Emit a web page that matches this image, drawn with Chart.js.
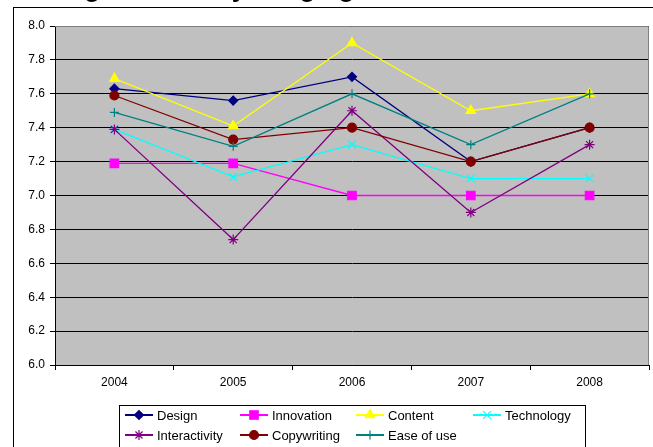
<!doctype html>
<html>

<head>
  <title>Average scores by judging criteria</title>
  <script src="https://cdn.jsdelivr.net/npm/chart.js@4"></script>
  <style>
    body {
      margin: 0;
      background: #fff;
    }
    canvas {
      display: block;
    }
  </style>
</head>

<body>
  <canvas id="myChart" width="653" height="447"></canvas>

  <script>
    var years = ['2004', '2005', '2006', '2007', '2008'];
    var yTicks = [6.0, 8.0, 0.2]; // min, max, step

    var design = [7.63, 7.56, 7.70, 7.20, 7.40];
    var innovation = [7.19, 7.19, 7.00, 7.00, 7.00];
    var content = [7.69, 7.41, 7.90, 7.50, 7.60];
    var technology = [7.39, 7.11, 7.30, 7.10, 7.10];
    var interactivity = [7.39, 6.74, 7.50, 6.90, 7.30];
    var copywriting = [7.59, 7.33, 7.40, 7.20, 7.40];
    var easeOfUse = [7.49, 7.29, 7.60, 7.30, 7.60];

    var FONT = 'Arial, "Liberation Sans", sans-serif';

    function series(label, data, color, style, radius, i) {
      return {
        label: label,
        data: data,
        borderColor: color,
        backgroundColor: color,
        borderWidth: 1.3,
        pointStyle: style,
        pointRadius: radius,
        pointHoverRadius: radius,
        pointBorderWidth: 1.2,
        pointBackgroundColor: color,
        pointBorderColor: color,
        tension: 0,
        order: -i  // later series on top, like the original
      };
    }

    // gray plot area, frame round the whole chart, cut-off title
    var decor = {
      id: 'decor',
      beforeDraw: function(chart) {
        var ctx = chart.ctx, a = chart.chartArea;
        ctx.save();
        ctx.fillStyle = '#fff';
        ctx.fillRect(0, 0, chart.width, chart.height);
        ctx.strokeStyle = '#000';
        ctx.lineWidth = 1;
        ctx.strokeRect(13.5, 7.5, 800, 600);
        ctx.fillStyle = '#000';
        ctx.font = 'bold 26px ' + FONT;
        ctx.textAlign = 'left';
        ctx.textBaseline = 'alphabetic';
        ctx.fillText('Average Scores by Judging Criteria', 13, -3);
        ctx.fillStyle = '#c0c0c0';
        ctx.fillRect(a.left, a.top, a.right - a.left, a.bottom - a.top);
        ctx.restore();
      },
      beforeDatasetsDraw: function(chart) {
        var ctx = chart.ctx, a = chart.chartArea;
        ctx.save();
        ctx.strokeStyle = '#808080';
        ctx.lineWidth = 1;
        ctx.beginPath();
        ctx.moveTo(a.left, Math.round(a.top) + 0.5);
        ctx.lineTo(Math.round(a.right) - 0.5, Math.round(a.top) + 0.5);
        ctx.lineTo(Math.round(a.right) - 0.5, a.bottom);
        ctx.stroke();
        ctx.restore();
      }
    };

    // boxed legend, 4 columns x 2 rows
    var boxLegend = {
      id: 'boxLegend',
      afterDraw: function(chart) {
        var ctx = chart.ctx;
        var cols = [125, 240, 356, 473];
        var rows = [415, 435];
        ctx.save();
        ctx.strokeStyle = '#000';
        ctx.lineWidth = 1;
        ctx.strokeRect(119.5, 405.5, 466, 80);
        ctx.font = '13px ' + FONT;
        ctx.textBaseline = 'middle';
        chart.data.datasets.forEach(function(ds, i) {
          var x = cols[i % 4], y = rows[Math.floor(i / 4)];
          ctx.strokeStyle = ds.borderColor;
          ctx.fillStyle = ds.borderColor;
          ctx.lineWidth = 2;
          ctx.beginPath();
          ctx.moveTo(x, y);
          ctx.lineTo(x + 28, y);
          ctx.stroke();
          ctx.lineWidth = ds.pointBorderWidth;
          Chart.helpers.drawPoint(ctx, {
            pointStyle: ds.pointStyle,
            radius: ds.pointRadius,
            borderWidth: ds.pointBorderWidth,
            rotation: 0
          }, x + 14, y);
          ctx.fillStyle = '#000';
          ctx.fillText(ds.label, x + 32, y + 1);
        });
        ctx.restore();
      }
    };

    var config = {
      type: 'line',
      data: {
        labels: years,
        datasets: [
          series('Design', design, '#000080', 'rectRot', 4.5, 0),
          series('Innovation', innovation, '#ff00ff', 'rect', 6, 1),
          series('Content', content, '#ffff00', 'triangle', 5.5, 2),
          series('Technology', technology, '#00ffff', 'crossRot', 5.5, 3),
          series('Interactivity', interactivity, '#800080', 'star', 5, 4),
          series('Copywriting', copywriting, '#800000', 'circle', 4.5, 5),
          series('Ease of use', easeOfUse, '#008080', 'cross', 4.5, 6)
        ]
      },
      options: {
        responsive: false,
        animation: false,
        layout: {
          autoPadding: false,
          padding: {left: 0, top: 26, right: 4, bottom: 0}
        },
        scales: {
          x: {
            offset: true,
            grid: {
              offset: true,
              drawOnChartArea: false,
              drawTicks: true,
              tickLength: 5,
              color: '#000'
            },
            border: {color: '#000', width: 1},
            ticks: {
              color: '#000',
              padding: 5,
              font: {family: FONT, size: 12}
            },
            afterFit: function(scale) {
              scale.height = 82;
              scale.paddingLeft = 0;
              scale.paddingRight = 0;
            }
          },
          y: {
            min: yTicks[0],
            max: yTicks[1],
            grid: {
              color: '#000',
              tickLength: 5
            },
            border: {color: '#000', width: 1},
            ticks: {
              stepSize: yTicks[2],
              color: '#000',
              padding: 5,
              font: {family: FONT, size: 12},
              callback: function(v) { return Number(v).toFixed(1); }
            },
            afterFit: function(scale) { scale.width = 55; }
          }
        },
        plugins: {
          legend: {display: false},
          title: {display: false},
          tooltip: {enabled: false}
        }
      },
      plugins: [decor, boxLegend]
    };

    window.onload = function() {
      var ctx = document.getElementById('myChart').getContext('2d');
      window.myChart = new Chart(ctx, config);
    };
  </script>
</body>

</html>
